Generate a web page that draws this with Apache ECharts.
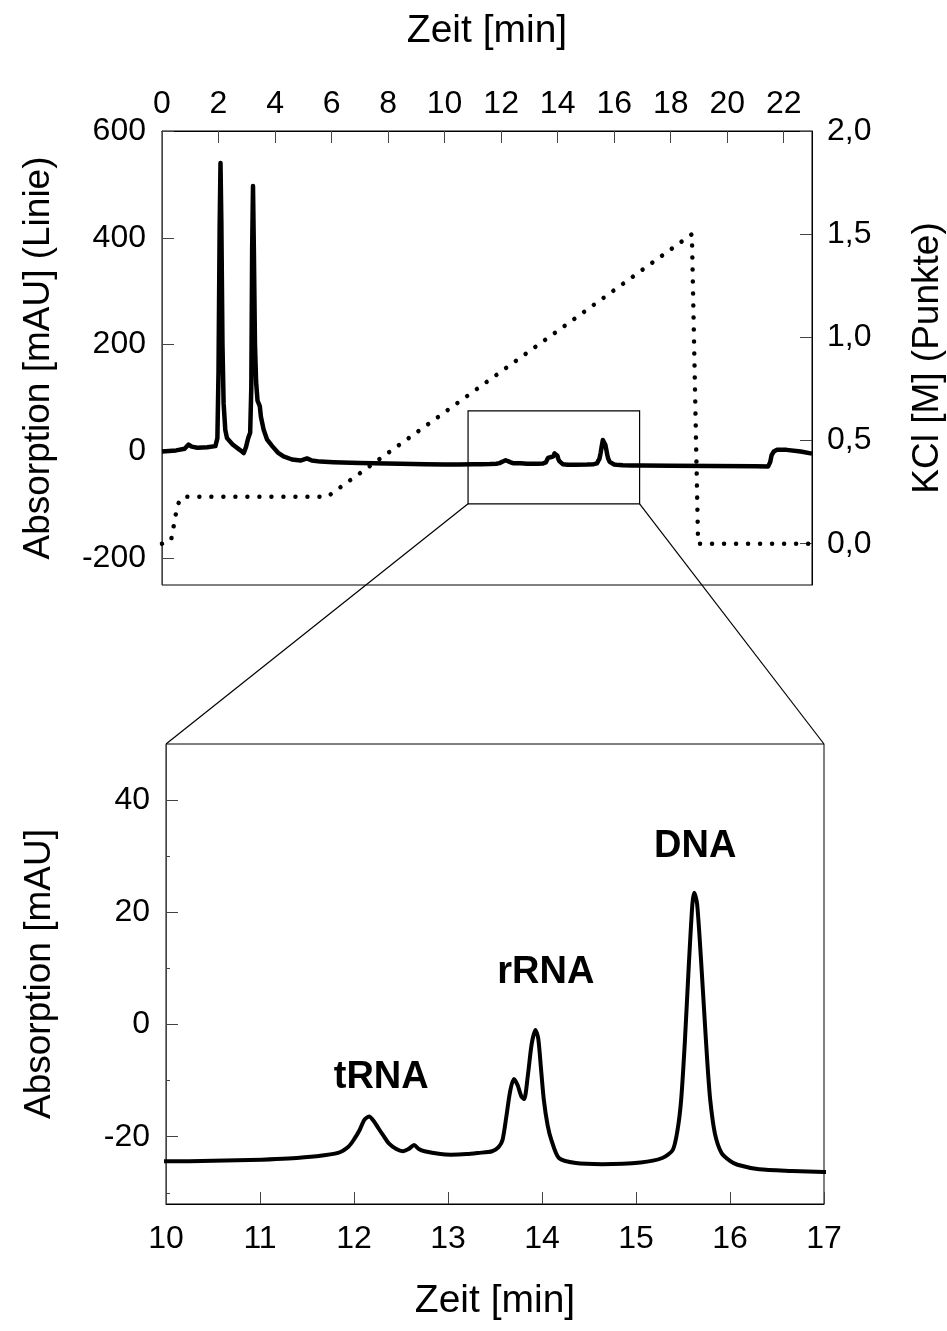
<!DOCTYPE html>
<html>
<head>
<meta charset="utf-8">
<script src="https://cdn.jsdelivr.net/npm/echarts@6/dist/echarts.min.js"></script>
<style>
html,body{margin:0;padding:0;background:#fff;}
#chart{width:947px;height:1331px;}
</style>
</head>
<body>
<div id="chart"></div>
<script>
// ---- data ----
const absTime = [0.00,0.50,0.80,0.94,1.05,1.25,1.60,1.89,1.96,2.00,2.04,2.07,2.10,2.14,2.18,2.24,2.30,2.50,2.75,2.89,2.97,3.05,3.12,3.16,3.19,3.22,3.25,3.29,3.33,3.38,3.42,3.46,3.50,3.60,3.72,3.90,4.10,4.30,4.60,4.90,5.13,5.30,5.60,6.07,7.00,8.43,9.30,
  10.00,10.50,11.02,11.30,11.60,11.83,11.94,12.00,12.06,12.11,12.16,12.21,12.26,12.32,12.37,12.45,12.52,12.58,12.64,12.69,12.75,12.92,13.03,13.20,13.32,13.47,13.54,13.58,13.62,13.66,13.70,13.74,13.78,13.81,13.85,13.89,13.93,13.96,13.99,14.02,14.06,14.10,14.18,14.36,14.64,15.05,15.28,15.39,15.44,15.48,15.52,15.56,15.60,15.62,15.65,15.69,15.73,15.76,15.79,15.84,15.91,16.00,16.08,16.31,16.66,17.00,
  18.00,19.50,21.00,21.45,21.52,21.57,21.65,21.75,22.10,22.60,23.00];
const absValue = [0,2,5,13,9,7,8,10,25,150,420,540,430,200,90,40,25,13,3,-3,8,25,35,120,380,497,380,200,130,95,90,85,65,40,22,10,-2,-9,-15,-17,-13,-17,-19,-20,-21.5,-23,-23.8,
  -24.4,-24.3,-24.1,-23.9,-23.5,-22.9,-21.8,-20.5,-18.8,-17.0,-16.4,-17.2,-18.5,-20.0,-21.2,-22.2,-22.6,-22.2,-21.5,-22.2,-22.6,-23.1,-23.2,-23.1,-22.9,-22.6,-21.8,-20.6,-16.5,-12,-9.7,-10.8,-12.8,-13.3,-9,-3.5,-1,-2.5,-8,-13.5,-18,-20.6,-23.8,-24.7,-24.9,-24.6,-23.8,-22.4,-19,-13.5,-3,10,21.5,23.5,21.5,12,1,-7,-13.5,-19.5,-22.9,-24.3,-25.0,-25.8,-26.1,-26.3,
  -26.8,-27.3,-27.8,-28,-20,-7,0,3,3,0,-4];
const kclTime  = [0, 0.32, 0.40, 0.55, 0.74, 5.85, 18.75, 18.97, 23];
const kclValue = [0, 0.016, 0.075, 0.19, 0.228, 0.228, 1.50, 0.0, 0.0];

const topTimeTicks = [0,2,4,6,8,10,12,14,16,18,20,22];
const absTicks = [-200,0,200,400,600];
const kclTicks = [0,0.5,1,1.5,2];
const zoomTimeTicks = [10,11,12,13,14,15,16,17];
const zoomAbsTicks = [-20,0,20,40];
const zoomAbsMinorTicks = [-30,-10,10,30];

const peakNames = ['tRNA','rRNA','DNA'];
const peakLabelTime = [12.29, 14.04, 15.63];
const peakLabelValue = [-9.5, 9.3, 31.7];

const zoomBoxTime = [10.83, 16.9];
const zoomBoxAbs = [-98, 76];

// ---- build ----
const absData = absTime.map((t,i)=>[t, absValue[i]]);
const kclData = kclTime.map((t,i)=>[t, kclValue[i]]);

const FONT = 'Liberation Sans, Arial, sans-serif';
const axisCol = '#444';
const tickLabel = {color:'#000', fontFamily:FONT, fontSize:32};
const nameStyle = {color:'#000', fontFamily:FONT, fontSize:37};
const nameStyleH = {color:'#000', fontFamily:FONT, fontSize:39};

const chart = echarts.init(document.getElementById('chart'), null, {renderer:'canvas'});

const option = {
  animation:false,
  backgroundColor:'#fff',
  grid:[
    {left:162, right:135, top:131, bottom:746, show:true, borderColor:'#000', borderWidth:1, outerBoundsMode:'none', containLabel:false},
    {left:166, right:123, top:744, bottom:127, show:true, borderColor:'#000', borderWidth:1, outerBoundsMode:'none', containLabel:false}
  ],
  xAxis:[
    {type:'value', gridIndex:0, position:'top', min:0, max:23,
     name:'Zeit [min]', nameLocation:'middle', nameGap:80, nameTextStyle:nameStyleH,
     axisLine:{show:true, onZero:false, lineStyle:{color:'#000', width:1}},
     axisTick:{show:true, inside:true, length:12, customValues:topTimeTicks, lineStyle:{color:axisCol}},
     axisLabel:Object.assign({margin:11, customValues:topTimeTicks}, tickLabel),
     splitLine:{show:false}},
    {type:'value', gridIndex:1, position:'bottom', min:10, max:17, interval:1,
     name:'Zeit [min]', nameLocation:'middle', nameGap:78, nameTextStyle:nameStyleH,
     axisLine:{show:true, onZero:false, lineStyle:{color:'#000', width:1}},
     axisTick:{show:true, inside:true, length:12, customValues:zoomTimeTicks, lineStyle:{color:axisCol}},
     axisLabel:Object.assign({margin:19, customValues:zoomTimeTicks}, tickLabel),
     splitLine:{show:false}}
  ],
  yAxis:[
    {type:'value', gridIndex:0, position:'left', min:-250, max:600,
     name:'Absorption [mAU] (Linie)', nameLocation:'middle', nameRotate:90, nameGap:105, nameTextStyle:nameStyle,
     axisLine:{show:true, onZero:false, lineStyle:{color:axisCol, width:1}},
     axisTick:{show:true, inside:true, length:12, customValues:absTicks, lineStyle:{color:axisCol}},
     axisLabel:Object.assign({margin:16, customValues:absTicks}, tickLabel),
     splitLine:{show:false}},
    {type:'value', gridIndex:0, position:'right', min:-0.2, max:2.0,
     name:'KCl [M] (Punkte)', nameLocation:'middle', nameRotate:90, nameGap:97, nameTextStyle:nameStyle,
     axisLine:{show:true, onZero:false, lineStyle:{color:'#000', width:1}},
     axisTick:{show:true, inside:true, length:12, customValues:kclTicks, lineStyle:{color:axisCol}},
     axisLabel:Object.assign({margin:15, customValues:kclTicks, formatter:v=>v.toFixed(1).replace('.',',')}, tickLabel),
     splitLine:{show:false}},
    {type:'value', gridIndex:1, position:'left', min:-32, max:50,
     name:'Absorption [mAU]', nameLocation:'middle', nameRotate:90, nameGap:108, nameTextStyle:nameStyle,
     axisLine:{show:true, onZero:false, lineStyle:{color:axisCol, width:1}},
     axisTick:{show:true, inside:true, length:12, customValues:zoomAbsTicks, lineStyle:{color:axisCol}},
     axisLabel:Object.assign({margin:16, customValues:zoomAbsTicks}, tickLabel),
     splitLine:{show:false}},
    {type:'value', gridIndex:1, position:'left', min:-32, max:50,
     axisLine:{show:false, onZero:false},
     axisTick:{show:true, inside:true, length:4, customValues:zoomAbsMinorTicks, lineStyle:{color:axisCol}},
     axisLabel:{show:false},
     splitLine:{show:false}}
  ],
  series:[
    {type:'line', xAxisIndex:0, yAxisIndex:0, data:absData, showSymbol:false, symbol:'none',
     lineStyle:{color:'#000', width:4.5, join:'round'}, z:3},
    {type:'line', xAxisIndex:0, yAxisIndex:1, data:kclData, showSymbol:false, symbol:'none',
     lineStyle:{color:'#000', width:4.5, type:[0.01, 12], cap:'round'}, z:2},
    {type:'line', xAxisIndex:1, yAxisIndex:2, data:absData, showSymbol:false, symbol:'none', smooth:0.25,
     lineStyle:{color:'#000', width:4, join:'round'}, z:3}
  ]
};
chart.setOption(option);

function drawOverlays(){
  const p = (si, x, y) => chart.convertToPixel({seriesIndex:si}, [x, y]);
  const b0 = p(0, zoomBoxTime[0], zoomBoxAbs[1]);
  const b1 = p(0, zoomBoxTime[1], zoomBoxAbs[0]);
  const bl = p(0, zoomBoxTime[0], zoomBoxAbs[0]);
  const br = p(0, zoomBoxTime[1], zoomBoxAbs[0]);
  const tl = p(2, 10, 50);
  const tr = p(2, 17, 50);
  const g = [
    {type:'rect', shape:{x:b0[0], y:b0[1], width:b1[0]-b0[0], height:b1[1]-b0[1]},
     style:{fill:'none', stroke:'#000', lineWidth:1.2}, z:10},
    {type:'line', shape:{x1:bl[0], y1:bl[1], x2:tl[0], y2:tl[1]}, style:{stroke:'#000', lineWidth:1.2}, z:10},
    {type:'line', shape:{x1:br[0], y1:br[1], x2:tr[0], y2:tr[1]}, style:{stroke:'#000', lineWidth:1.2}, z:10}
  ];
  peakNames.forEach((n,i)=>{
    const q = p(2, peakLabelTime[i], peakLabelValue[i]);
    g.push({type:'text', x:q[0], y:q[1], z:10,
      style:{text:n, fill:'#000', font:'bold 38px Liberation Sans, Arial, sans-serif', textAlign:'center', textVerticalAlign:'middle'}});
  });
  chart.setOption({graphic:g});
}
drawOverlays();
</script>
</body>
</html>
